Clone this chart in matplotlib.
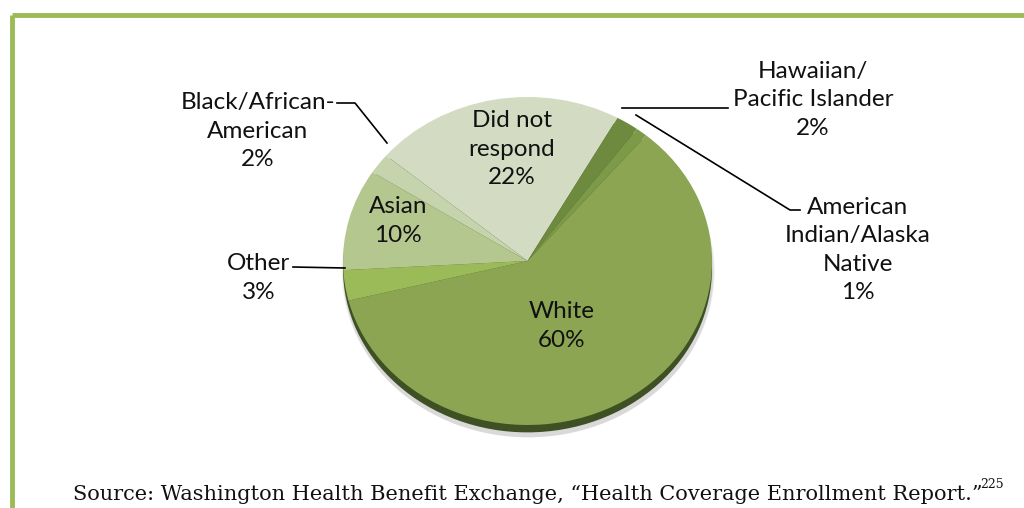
import matplotlib.pyplot as plt
from matplotlib.patches import Ellipse

# data
labels = ['Did not\nrespond', 'Hawaiian/\nPacific Islander', 'American\nIndian/Alaska\nNative',
          'White', 'Other', 'Asian', 'Black/African-\nAmerican']
values = [22, 2, 1, 60, 3, 10, 2]
colors = ['#d3dcc2', '#6e8a3f', '#7d9a49', '#8ba552', '#9bbb59', '#b4c78e', '#c6d4ad']

W, H = 1024, 508
fig = plt.figure(figsize=(W / 100, H / 100), dpi=100)
fnt = 'Lato'

# pie axes
px0, py0, pw, ph = 343, 97, 369, 328
ax = fig.add_axes([px0 / W, (H - py0 - ph) / H, pw / W, ph / H])
ax.patch.set_alpha(0)

# soft shadow + dark rim under the top face
for i, a in enumerate([0.03, 0.05, 0.07]):
    ax.add_patch(Ellipse((0.004, -0.062 - 0.005 * i), 2.0 + 0.008 * (3 - i), 2.0 + 0.008 * (3 - i),
                         color='#000000', alpha=a, lw=0, zorder=0, clip_on=False))
ax.add_patch(Ellipse((0, -0.045), 2.0, 2.0, color='#3f5124', lw=0, zorder=1, clip_on=False))

wedges, _ = ax.pie(values, colors=colors, startangle=140, counterclock=False,
                   radius=1.0, wedgeprops=dict(lw=0, zorder=2, clip_on=False))
ax.set_aspect('auto')
ax.set_xlim(-1.0, 1.0)
ax.set_ylim(-1.0, 1.0)
ax.axis('off')

# overlay axes in pixel coordinates for frame, labels, lines
ov = fig.add_axes([0, 0, 1, 1])
ov.set_xlim(0, W)
ov.set_ylim(H, 0)
ov.axis('off')
ov.patch.set_alpha(0)

green = '#9bbb59'
ov.plot([12, W], [15, 15], color=green, lw=3.5, solid_capstyle='butt')
ov.plot([12, 12], [15, H], color=green, lw=3.5, solid_capstyle='butt')

pct = ['%d%%' % v for v in values]
fs = 17.5
tk = dict(fontsize=fs, family=fnt, ha='center', va='center', color='#111111',
          linespacing=1.45)

# inside labels
ov.text(512, 149, labels[0] + '\n' + pct[0], **tk)
ov.text(398, 221, labels[5] + '\n' + pct[5], **tk)
ov.text(562, 326, labels[3] + '\n' + pct[3], **tk)

# outside labels
ov.text(258, 131, labels[6] + '\n' + pct[6], **tk)
ov.text(813, 100, labels[1] + '\n' + pct[1], **tk)
ov.text(858, 250, labels[2] + '\n' + pct[2], **tk)
ov.text(259, 278, labels[4] + '\n' + pct[4], **tk)

# leader lines
lk = dict(color='black', lw=1.2)
ov.plot([337, 355, 387], [103, 103, 143], **lk)
ov.plot([728, 622], [108, 108], **lk)
ov.plot([800, 790, 636], [210, 210, 115], **lk)
ov.plot([293, 345], [267, 268], **lk)

# source line
src = 'Source: Washington Health Benefit Exchange, \u201cHealth Coverage Enrollment Report.\u201d'
ov.text(983, 494, src, fontsize=15, family='DejaVu Serif', ha='right', va='center', color='#111111')
ov.text(980, 484, '225', fontsize=9, family='DejaVu Serif', ha='left', va='center', color='#111111')

fig.savefig('out.png', dpi=100)
